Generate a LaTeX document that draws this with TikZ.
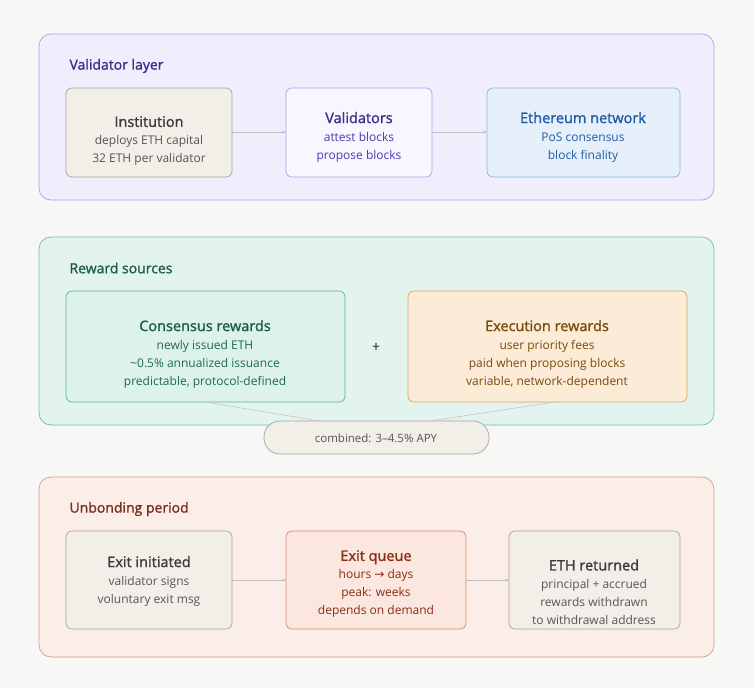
\documentclass[tikz,border=0pt]{standalone}
\usepackage{fontspec}
\setmainfont{Open Sans}
\newfontfamily\med[FakeBold=1.3]{Open Sans}
\newfontfamily\djv{DejaVu Sans}
\usetikzlibrary{arrows.meta}
\definecolor{bg}{HTML}{F7F7F5}
\definecolor{vfill}{HTML}{F0EEFC}\definecolor{vline}{HTML}{A9A1E8}\definecolor{vtext}{HTML}{3B2F8F}\definecolor{vbody}{HTML}{4B3BB5}
\definecolor{gfill}{HTML}{F2EFE9}\definecolor{gline}{HTML}{A8A39A}\definecolor{gtext}{HTML}{3A3A3A}\definecolor{gbody}{HTML}{555555}
\definecolor{bfill}{HTML}{E6F0FB}\definecolor{bline}{HTML}{8FB0E0}\definecolor{btext}{HTML}{1F5AA6}
\definecolor{rfill}{HTML}{E3F4EE}\definecolor{rline}{HTML}{6FBF9F}\definecolor{rtext}{HTML}{1B5E3F}
\definecolor{cfill}{HTML}{DDF2EA}\definecolor{cline}{HTML}{5FB38F}\definecolor{ctext}{HTML}{1E6B47}
\definecolor{efill}{HTML}{FBEBD7}\definecolor{eline}{HTML}{D9A566}\definecolor{etext}{HTML}{7A4A0F}
\definecolor{ufill}{HTML}{FBEDE8}\definecolor{uline}{HTML}{D99A88}\definecolor{utext}{HTML}{7A2E1A}
\definecolor{qfill}{HTML}{FBE7DF}\definecolor{qline}{HTML}{D98B70}\definecolor{qtext}{HTML}{8A2E12}
\begin{document}
\begin{tikzpicture}[x=1pt,y=-1pt,
 panel/.style={rounded corners=12pt,line width=0.7pt},
 box/.style={rounded corners=6pt,line width=0.7pt},
 ttl/.style={anchor=west,font=\med\fontsize{14}{18}\selectfont},
 lbl/.style={align=center,font=\fontsize{12}{18}\selectfont},
 conn/.style={draw=gline!70,line width=0.5pt,-{Stealth[length=4pt]}},
 thin/.style={draw=gline!70,line width=0.5pt}]
\newcommand{\bt}[1]{{\med\fontsize{14.5}{22}\selectfont #1}}
\fill[bg] (0,0) rectangle (754,688);
\useasboundingbox (0,0) rectangle (754,688);
% validator layer
\draw[panel,fill=vfill,draw=vline] (39,34) rectangle (714,200);
\node[ttl,text=vtext] (t1) at (66,66) {Validator layer};
\draw[box,fill=gfill,draw=gline] (66,88) rectangle (232,177);
\node[lbl] (inst) at (149,141) {\textcolor{gtext}{\bt{Institution}}\\\textcolor{gbody}{deploys ETH capital}\\\textcolor{gbody}{32 ETH per validator}};
\draw[box,fill=vfill!50!white,draw=vline] (286,88) rectangle (432,177);
\node[lbl,text=vbody] (val) at (359,137) {\textcolor{vtext}{\bt{Validators}}\\attest blocks\\propose blocks};
\draw[box,fill=bfill,draw=bline] (487,88) rectangle (680,177);
\node[lbl,text=btext] (eth) at (583,137) {\bt{Ethereum network}\\PoS consensus\\block finality};
\coordinate (a1) at (232,132);\coordinate (a2) at (286,132);
\coordinate (a3) at (432,132);\coordinate (a4) at (487,132);
\draw[conn] (a1) -- (a2);\draw[conn] (a3) -- (a4);
% reward sources
\draw[panel,fill=rfill,draw=rline] (39,237) rectangle (714,425);
\node[ttl,text=rtext] (t2) at (66,268) {Reward sources};
\draw[box,fill=cfill,draw=cline] (66,291) rectangle (345,402);
\node[lbl,text=ctext] (cons) at (205,354) {\textcolor{rtext}{\bt{Consensus rewards}}\\newly issued ETH\\\textasciitilde0.5\% annualized issuance\\predictable, protocol-defined};
\node[font=\med\fontsize{13}{16}\selectfont,text=gtext] (plus) at (376,347) {+};
\draw[box,fill=efill,draw=eline] (408,291) rectangle (687,402);
\node[lbl,text=etext] (exec) at (547,354) {\bt{Execution rewards}\\user priority fees\\paid when proposing blocks\\variable, network-dependent};
\draw[rounded corners=16pt,fill=gfill,draw=gline,line width=0.7pt] (264,421) rectangle (489,454);
\node[font=\fontsize{11.5}{14}\selectfont,text=gbody] (comb) at (376,438) {combined: 3–4.5\% APY};
\coordinate (c1) at (205,402);\coordinate (c2) at (320,421);
\coordinate (c3) at (555,402);\coordinate (c4) at (430,421);
\draw[thin] (c1) -- (c2);\draw[thin] (c3) -- (c4);
% unbonding
\draw[panel,fill=ufill,draw=uline] (39,477) rectangle (714,657);
\node[ttl,text=utext] (t3) at (66,509) {Unbonding period};
\draw[box,fill=gfill,draw=gline] (66,531) rectangle (232,629);
\node[lbl] (exi) at (149,581) {\textcolor{gtext}{\bt{Exit initiated}}\\\textcolor{gbody}{validator signs}\\\textcolor{gbody}{voluntary exit msg}};
\draw[box,fill=qfill,draw=qline] (286,531) rectangle (466,629);
\node[lbl,text=qtext] (q) at (376,584) {\bt{Exit queue}\\hours {\djv→} days\\peak: weeks\\depends on demand};
\draw[box,fill=gfill,draw=gline] (509,531) rectangle (680,629);
\node[lbl] (ret) at (594,592) {\textcolor{gtext}{\bt{ETH returned}}\\\textcolor{gbody}{principal + accrued}\\\textcolor{gbody}{rewards withdrawn}\\\textcolor{gbody}{to withdrawal address}};
\coordinate (b1) at (232,580);\coordinate (b2) at (286,580);
\coordinate (b3) at (466,580);\coordinate (b4) at (509,580);
\draw[conn] (b1) -- (b2);\draw[conn] (b3) -- (b4);
\end{tikzpicture}
\end{document}
